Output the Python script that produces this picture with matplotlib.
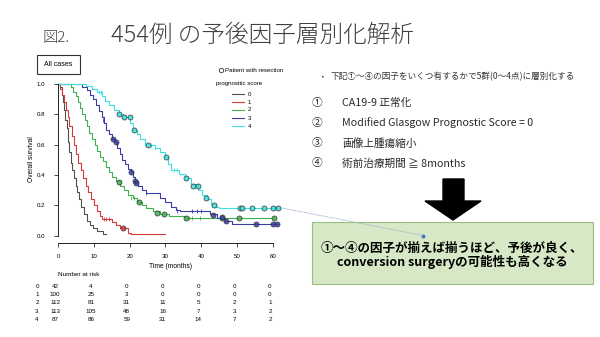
import matplotlib.pyplot as plt
import numpy as np
from matplotlib.patches import Rectangle, Polygon
from matplotlib.lines import Line2D

W, H = 600, 337
CJK = ['Noto Sans CJK JP', 'DejaVu Sans']
LAT = 'Liberation Sans'

# Kaplan-Meier step curves (time in months, survival)
g0_t = [0, 0.5, 1.0, 1.3, 1.7, 2.0, 2.4, 2.8, 3.2, 3.6, 4.0, 4.4, 4.9, 5.4, 5.9, 6.5, 7.2, 8.0, 8.8, 9.8, 11.0, 12.5, 13.5]
g0_s = [1.0, 0.98, 0.93, 0.88, 0.83, 0.76, 0.71, 0.62, 0.55, 0.48, 0.43, 0.38, 0.33, 0.29, 0.24, 0.19, 0.14, 0.10, 0.07, 0.05, 0.03, 0.01, 0.01]
g1_t = [0, 0.6, 1.2, 1.7, 2.2, 2.7, 3.2, 3.8, 4.4, 5.0, 5.7, 6.4, 7.1, 7.8, 8.5, 9.2, 10.0, 10.8, 11.6, 12.3, 15.2, 16.3, 17.3, 19.5, 20.5, 29.8]
g1_s = [1.0, 0.97, 0.93, 0.88, 0.83, 0.78, 0.72, 0.66, 0.60, 0.54, 0.48, 0.43, 0.38, 0.33, 0.29, 0.24, 0.20, 0.16, 0.13, 0.11, 0.09, 0.07, 0.05, 0.02, 0.01, 0.01]
g2_t = [0, 3.5, 4.3, 5.0, 5.6, 6.2, 6.8, 7.4, 8.0, 8.7, 9.4, 10.2, 11.0, 11.8, 12.6, 13.4, 14.3, 15.2, 16.2, 17.3, 18.4, 19.6, 20.8, 22.0, 23.4, 24.6, 26.5, 28.5, 31.0, 35.5, 60.2]
g2_s = [1.0, 0.98, 0.95, 0.92, 0.88, 0.84, 0.80, 0.76, 0.72, 0.68, 0.64, 0.60, 0.56, 0.52, 0.49, 0.45, 0.42, 0.39, 0.36, 0.33, 0.30, 0.27, 0.25, 0.22, 0.20, 0.18, 0.16, 0.14, 0.13, 0.12, 0.12]
g3_t = [0, 6.8, 8.0, 9.0, 9.8, 10.6, 11.4, 12.2, 12.8, 13.5, 14.2, 15.0, 16.0, 16.6, 17.2, 17.9, 18.8, 19.6, 20.3, 20.9, 21.5, 22.4, 23.4, 24.5, 28.5, 30.0, 31.5, 33.0, 34.0, 42.5, 44.5, 46.5, 48.5, 61.5]
g3_s = [1.0, 0.98, 0.96, 0.93, 0.90, 0.86, 0.82, 0.78, 0.74, 0.70, 0.67, 0.64, 0.62, 0.58, 0.54, 0.50, 0.47, 0.44, 0.42, 0.39, 0.36, 0.33, 0.30, 0.28, 0.25, 0.22, 0.19, 0.17, 0.16, 0.14, 0.12, 0.10, 0.08, 0.08]
g4_t = [0, 7.8, 9.5, 11.0, 12.2, 13.2, 14.2, 15.5, 17.0, 18.2, 20.2, 21.0, 22.0, 23.0, 24.2, 27.0, 28.5, 29.8, 30.8, 31.5, 33.8, 35.5, 37.0, 39.2, 40.2, 41.5, 42.8, 44.0, 45.0, 62.0]
g4_s = [1.0, 0.99, 0.97, 0.95, 0.92, 0.89, 0.86, 0.83, 0.80, 0.78, 0.74, 0.70, 0.67, 0.64, 0.60, 0.58, 0.55, 0.52, 0.47, 0.43, 0.41, 0.38, 0.34, 0.30, 0.27, 0.24, 0.21, 0.19, 0.18, 0.18]

# patients with resection (open circles)
r1_t = [18.1]; r1_s = [0.05]
r2_t = [17.0, 22.6, 27.5, 29.6, 35.7, 45.8, 50.5, 60.2]
r2_s = [0.355, 0.22, 0.15, 0.14, 0.12, 0.12, 0.12, 0.12]
r3_t = [15.3, 16.3, 20.3, 21.4, 21.9, 43.2, 45.8, 46.9, 55.3, 60.0, 61.1]
r3_s = [0.64, 0.62, 0.42, 0.36, 0.35, 0.136, 0.125, 0.095, 0.08, 0.08, 0.08]
r4_t = [17.0, 18.3, 20.0, 21.2, 25.2, 30.1, 35.7, 37.6, 39.0, 41.3, 43.6, 50.7, 51.3, 54.2, 57.4, 60.0, 61.5]
r4_s = [0.80, 0.78, 0.78, 0.70, 0.60, 0.516, 0.378, 0.33, 0.33, 0.25, 0.20, 0.185, 0.185, 0.185, 0.185, 0.185, 0.185]

# censored ticks
c1_t = [12.8, 13.5, 14.3]; c1_s = [0.11, 0.11, 0.11]
c2_t = [20.5, 21.3, 36.5, 37.5, 39.5]; c2_s = [0.25, 0.25, 0.12, 0.12, 0.12]
c3_t = [12.5, 24.5, 33.3, 37.5, 38.8, 40.0]; c3_s = [0.76, 0.28, 0.16, 0.16, 0.16, 0.16]
c4_t = [11.5, 12.0, 26.0, 27.2, 32.5, 33.2]; c4_s = [0.95, 0.95, 0.60, 0.58, 0.43, 0.43]

groups = ['0', '1', '2', '3', '4']
colors = ['#505050', '#d83a3a', '#3fb34f', '#3c3ca8', '#3ee0e0']

# number at risk
risk_times = [0, 10, 20, 30, 40, 50, 60]
risk0 = [42, 4, 0, 0, 0, 0, 0]
risk1 = [100, 25, 3, 0, 0, 0, 0]
risk2 = [112, 81, 31, 11, 5, 2, 1]
risk3 = [113, 105, 48, 16, 7, 3, 2]
risk4 = [87, 86, 59, 31, 14, 7, 2]

items = ['CA19-9 正常化', 'Modified Glasgow Prognostic Score = 0', '画像上腫瘍縮小', '術前治療期間 ≧ 8months']
marks = ['①', '②', '③', '④']


def px(x, y):
    return x / W, 1 - y / H


fig = plt.figure(figsize=(6, 3.37), dpi=100)
fig.patch.set_facecolor('white')

# title
fig.text(*px(42, 42), '図2.', family=CJK, fontsize=11, color='#404040', weight='light', va='baseline')
fig.text(*px(111, 42), '454例 の予後因子層別化解析', family=CJK, fontsize=17, color='#404040',
         weight='light', va='baseline')

# KM axes
ax = fig.add_axes([58 / W, 1 - 242.7 / H, 225.7 / W, 166.3 / H])
curves = [(g0_t, g0_s), (g1_t, g1_s), (g2_t, g2_s), (g3_t, g3_s), (g4_t, g4_s)]
for (t, s), c in zip(curves, colors):
    ax.step(t, s, where='post', color=c, lw=0.8)
cens = [(c1_t, c1_s, colors[1]), (c2_t, c2_s, colors[2]), (c3_t, c3_s, colors[3]), (c4_t, c4_s, colors[4])]
for t, s, c in cens:
    ax.plot(t, s, ls='none', marker='|', ms=3, mew=0.6, color=c)
res = [(r1_t, r1_s, colors[1]), (r2_t, r2_s, colors[2]), (r3_t, r3_s, colors[3]), (r4_t, r4_s, colors[4])]
for t, s, c in res:
    ax.plot(t, s, ls='none', marker='o', ms=3.6, mfc=c, mec='#333333', mew=0.6, alpha=0.85)

ax.set_xlim(0, 63)
ax.set_ylim(-0.046, 1.05)
for sp in ['top', 'right']:
    ax.spines[sp].set_visible(False)
ax.spines['left'].set_bounds(0, 1)
ax.spines['bottom'].set_bounds(0, 60)
for sp in ['left', 'bottom']:
    ax.spines[sp].set_linewidth(0.6)
ax.set_xticks(risk_times)
ax.set_yticks([0, 0.2, 0.4, 0.6, 0.8, 1.0])
ax.set_yticklabels(['0.0', '0.2', '0.4', '0.6', '0.8', '1.0'])
ax.tick_params(labelsize=4.4, length=3, width=0.5, pad=6)
ax.tick_params(axis='x', pad=5)
for lab in ax.get_xticklabels() + ax.get_yticklabels():
    lab.set_family(LAT)
ax.set_xlabel('Time (months)', family=LAT, fontsize=4.8, labelpad=3)
ax.set_ylabel('Overall survival', family=LAT, fontsize=4.8, labelpad=1)

# "All cases" box
fig.patches.append(Rectangle(px(37, 74), 43 / W, 19 / H, transform=fig.transFigure,
                             fill=False, ec='#333333', lw=0.8))
fig.text(*px(58.5, 64.5), 'All cases', family=LAT, fontsize=5, ha='center', va='center')

# legend
fig.lines.append(Line2D([px(221, 70)[0]], [px(221, 70)[1]], transform=fig.transFigure,
                        ls='none', marker='o', ms=3.2, mfc='none', mec='#333333', mew=0.6))
fig.text(*px(225, 70), 'Patient with resection', family=LAT, fontsize=4.4, va='center')
fig.text(*px(216, 84), 'prognositic score', family=LAT, fontsize=4.4, va='center')
for i, (g, c) in enumerate(zip(groups, colors)):
    y = 94 + 8 * i
    fig.lines.append(Line2D([232 / W, 244 / W], [1 - y / H] * 2, transform=fig.transFigure, color=c, lw=0.8))
    fig.text(*px(248, y), g, family=LAT, fontsize=4.4, va='center')

# number at risk table
fig.text(*px(79, 275), 'Number at risk', family=LAT, fontsize=4.6, ha='center', va='center')
risks = [risk0, risk1, risk2, risk3, risk4]
for i, (g, r) in enumerate(zip(groups, risks)):
    y = 286.5 + 8.2 * i
    fig.text(*px(37, y), g, family=LAT, fontsize=4.5, ha='center', va='center')
    for t, n in zip(risk_times, r):
        xf = fig.transFigure.inverted().transform(ax.transData.transform((t, 0)))[0]
        fig.text(xf - 3 / W, 1 - y / H, str(n), family=LAT, fontsize=4.5, ha='center', va='center')

# right-hand text
fig.text(*px(320, 77), '▪', family=CJK, fontsize=4, va='center', color='#333333')
fig.text(*px(331, 77), '下記①～④の因子をいくつ有するかで5群(0～4点)に層別化する', family=CJK,
         fontsize=6.2, va='center', color='#333333')
for i, (m, s) in enumerate(zip(marks, items)):
    y = 102.7 + 20.2 * i
    fig.text(*px(312, y), m, family=CJK, fontsize=7.7, va='center', color='#2a2a2a')
    fig.text(*px(342, y), s, family=CJK, fontsize=7.7, va='center', color='#2a2a2a')

# big arrow
arrow = [(443, 179), (464, 179), (464, 201), (481, 201), (453, 220), (425, 201), (443, 201)]
fig.patches.append(Polygon([px(x, y) for x, y in arrow], closed=True, transform=fig.transFigure,
                           fc='black', ec='black'))

# green conclusion box
fig.patches.append(Rectangle(px(312, 284), 281 / W, 62 / H, transform=fig.transFigure,
                             fc='#d6e8c6', ec='#9cbf80', lw=0.8))
fig.text(*px(452, 248), '①～④の因子が揃えば揃うほど、予後が良く、', family=CJK, fontsize=9,
         weight='bold', ha='center', va='center')
fig.text(*px(452, 262), 'conversion surgeryの可能性も高くなる', family=CJK, fontsize=9,
         weight='bold', ha='center', va='center')

# connector line from plot to box
fig.lines.append(Line2D([282 / W, 423 / W], [1 - 208 / H, 1 - 235.5 / H], transform=fig.transFigure,
                        color='#9ab0cc', lw=0.6, ls=(0, (2, 1))))
fig.lines.append(Line2D([423 / W], [1 - 235.5 / H], transform=fig.transFigure, ls='none',
                        marker='o', ms=1.8, color='#4472c4'))

fig.savefig('out.png', dpi=100)
